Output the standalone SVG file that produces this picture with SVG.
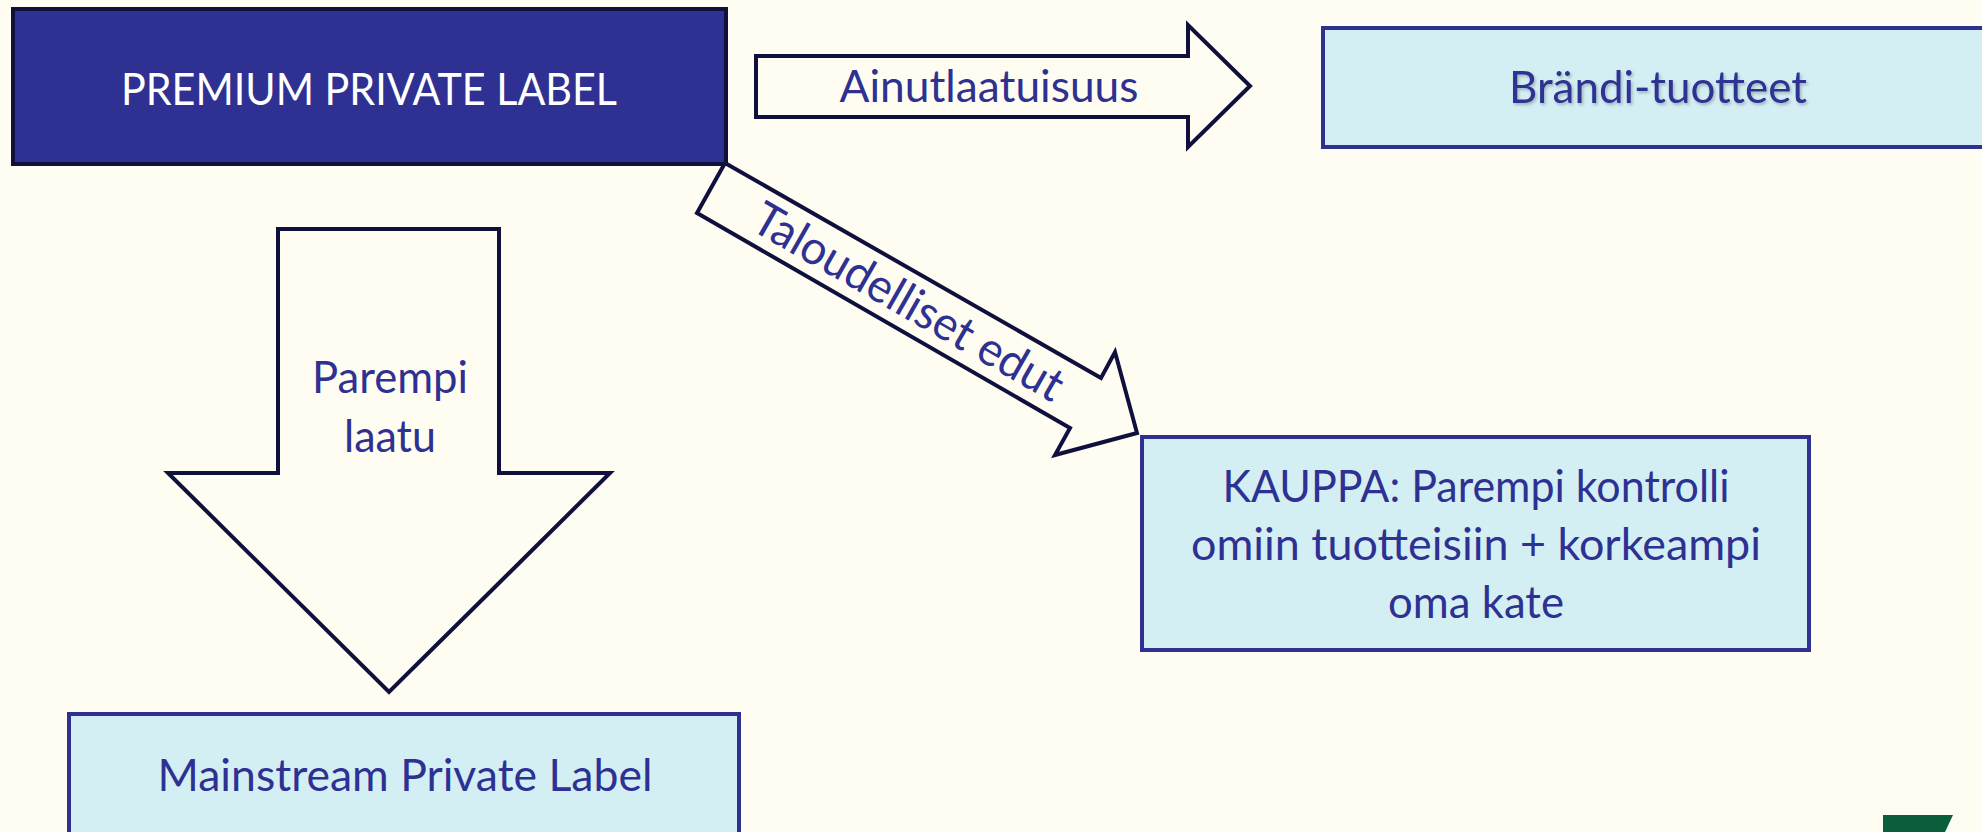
<svg xmlns="http://www.w3.org/2000/svg" width="1982" height="832" viewBox="0 0 1982 832">
  <defs>
    <style>
      .bg { fill: #FFFDF1; }
      .arrow { fill: #FFFDF1; stroke: #10103F; stroke-width: 4; stroke-linejoin: miter; }
      .box-dark { fill: #2E3192; stroke: #10103F; stroke-width: 4; }
      .box-light { fill: #D3EFF4; stroke: #2E3192; stroke-width: 4; }
      .lbl { font-family: Lato, "Open Sans", "Liberation Sans", sans-serif; font-size: 44px; fill: #2E3192; text-anchor: middle; }
      .lbl-white { fill: #FFFFFF; }
      .lbl-diag { font-size: 47px; }
    </style>
    <filter id="softShadow" x="-10%" y="-30%" width="120%" height="160%">
      <feDropShadow dx="1.5" dy="2" stdDeviation="1.5" flood-color="#000000" flood-opacity="0.25"/>
    </filter>
  </defs>

  <rect class="bg" x="0" y="0" width="1982" height="832"/>

  <!-- Nodes -->
  <g id="premium-private-label">
    <rect class="box-dark" x="13" y="9" width="713" height="155"/>
    <text class="lbl lbl-white" x="369" y="105" textLength="496" lengthAdjust="spacingAndGlyphs">PREMIUM PRIVATE LABEL</text>
  </g>

  <g id="brandi-tuotteet">
    <rect class="box-light" x="1323" y="28" width="700" height="119"/>
    <text class="lbl" x="1658" y="103" textLength="298" lengthAdjust="spacingAndGlyphs" filter="url(#softShadow)">Brändi-tuotteet</text>
  </g>

  <g id="kauppa">
    <rect class="box-light" x="1142" y="437" width="667" height="213"/>
    <text class="lbl" x="1476" y="502" textLength="507" lengthAdjust="spacingAndGlyphs">KAUPPA: Parempi kontrolli</text>
    <text class="lbl" x="1476" y="560" textLength="570" lengthAdjust="spacingAndGlyphs">omiin tuotteisiin + korkeampi</text>
    <text class="lbl" x="1476" y="618" textLength="176" lengthAdjust="spacingAndGlyphs">oma kate</text>
  </g>

  <g id="mainstream-private-label">
    <rect class="box-light" x="69" y="714" width="670" height="140"/>
    <text class="lbl" x="405" y="791" textLength="495" lengthAdjust="spacingAndGlyphs">Mainstream Private Label</text>
  </g>

  <!-- Connectors: block arrows with their labels -->
  <g id="connectors">
    <g id="arrow-ainutlaatuisuus">
      <polygon class="arrow" points="756,56 1188,56 1188,25 1250,86 1188,147 1188,117 756,117"/>
      <text class="lbl" x="989" y="102" textLength="299" lengthAdjust="spacingAndGlyphs">Ainutlaatuisuus</text>
    </g>

    <g id="arrow-taloudelliset-edut">
      <polygon class="arrow" points="725,163 1101,378 1115,352 1137,433 1055,455 1070,428 697,213"/>
      <text class="lbl lbl-diag" transform="translate(909,301) rotate(29.8)" x="0" y="17" textLength="350" lengthAdjust="spacingAndGlyphs">Taloudelliset edut</text>
    </g>

    <g id="arrow-parempi-laatu">
      <polygon class="arrow" points="278,229 499,229 499,473 610,473 389,692 168,473 278,473"/>
      <text class="lbl" x="390" y="393" textLength="156" lengthAdjust="spacingAndGlyphs">Parempi</text>
      <text class="lbl" x="390" y="452" textLength="92" lengthAdjust="spacingAndGlyphs">laatu</text>
    </g>
  </g>

  <!-- Corner logo fragment -->
  <polygon points="1883,815 1953,815 1945,832 1883,832" fill="#0B5E3B"/>
</svg>
